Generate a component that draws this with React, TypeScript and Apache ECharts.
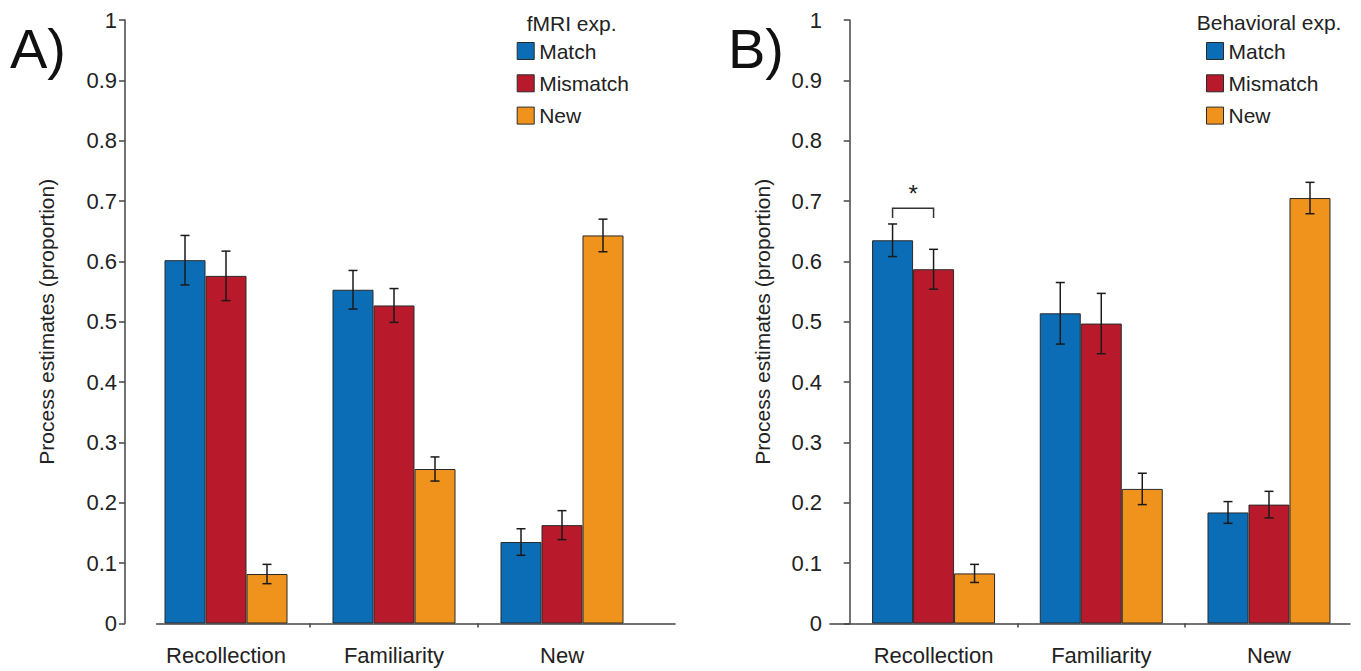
import React, { useEffect, useRef } from 'react';
import * as echarts from 'echarts';

// ---------- data ----------
const categories = ['Recollection', 'Familiarity', 'New'];
const categoryPositions = [0.5, 1.5, 2.5];
const boundaryTicks = [1, 2];
const seriesNames = ['Match', 'Mismatch', 'New'];
const yAxisName = 'Process estimates (proportion)';

// Panel A: fMRI experiment
const fmriMatch = [0.602, 0.553, 0.135];
const fmriMismatch = [0.576, 0.527, 0.163];
const fmriNew = [0.082, 0.256, 0.643];
const fmriMatchErr = [0.041, 0.032, 0.022];
const fmriMismatchErr = [0.041, 0.028, 0.024];
const fmriNewErr = [0.016, 0.02, 0.027];

// Panel B: behavioral experiment
const behMatch = [0.635, 0.514, 0.184];
const behMismatch = [0.587, 0.497, 0.197];
const behNew = [0.083, 0.223, 0.705];
const behMatchErr = [0.027, 0.051, 0.018];
const behMismatchErr = [0.033, 0.05, 0.022];
const behNewErr = [0.015, 0.026, 0.026];

// significance bracket (panel B, Recollection: Match vs Mismatch)
const sigCategoryIndex = [0];
const sigBracketTop = [0.688];
const sigBracketBottom = [0.672];
const sigStarLevel = [0.713];
const sigLabel = ['*'];

// ---------- styles ----------
const FONT = '"Liberation Sans", Arial, Helvetica, sans-serif';
const TEXT = '#222';
const AXIS = '#444';
const COLORS = ['#0b6db6', '#b81a2b', '#f0931d'];
const BAR_W = 41;
const CAP = 4.5;

const fmtY = (v: number) => {
  if (Math.abs(v) < 1e-9) return '0';
  if (Math.abs(v - 1) < 1e-9) return '1';
  return v.toFixed(1);
};
const fmtX = (v: number) => categories[Math.round(v - 0.5)] ?? '';

function errData(vals: number[][], errs: number[][]) {
  const out: number[][] = [];
  vals.forEach((arr, k) => {
    arr.forEach((v, i) => {
      out.push([categoryPositions[i], v, errs[k][i], k]);
    });
  });
  return out;
}

export default function App() {
  const ref = useRef<HTMLDivElement>(null);

  useEffect(() => {
    if (!ref.current) return;
    const chart = echarts.init(ref.current, undefined, { renderer: 'svg' });

    const panels = [
      {
        vals: [fmriMatch, fmriMismatch, fmriNew],
        errs: [fmriMatchErr, fmriMismatchErr, fmriNewErr],
        grid: { left: 156.7, right: 686, top: 20, bottom: 47.5 },
        xMin: 0.0875,
        xMax: 3.1726,
        yOffset: 31.7,
        nameGap: 68,
      },
      {
        vals: [behMatch, behMismatch, behNew],
        errs: [behMatchErr, behMismatchErr, behNewErr],
        grid: { left: 830, right: 11, top: 20, bottom: 47.5 },
        xMin: -0.1175,
        xMax: 2.983,
        yOffset: 0,
        nameGap: 57,
      },
    ];

    const series: any[] = [];
    panels.forEach((p, gi) => {
      p.vals.forEach((arr, k) => {
        series.push({
          type: 'bar',
          name: seriesNames[k],
          xAxisIndex: gi,
          yAxisIndex: gi,
          barWidth: BAR_W,
          barGap: '0%',
          data: arr.map((v, i) => [categoryPositions[i], v]),
          itemStyle: { color: COLORS[k], borderColor: '#2a2a2a', borderWidth: 1 },
          z: 2,
        });
      });
      series.push({
        type: 'custom',
        xAxisIndex: gi,
        yAxisIndex: gi,
        z: 10,
        data: errData(p.vals, p.errs),
        encode: { x: 0, y: 1 },
        renderItem: (params: any, api: any) => {
          const x = api.value(0);
          const y = api.value(1);
          const e = api.value(2);
          const k = api.value(3);
          const top = api.coord([x, y + e]);
          const bot = api.coord([x, y - e]);
          const cx = top[0] + (k - 1) * BAR_W;
          const style = { stroke: '#1a1a1a', lineWidth: 1.5 };
          return {
            type: 'group',
            children: [
              { type: 'line', shape: { x1: cx, y1: top[1], x2: cx, y2: bot[1] }, style },
              { type: 'line', shape: { x1: cx - CAP, y1: top[1], x2: cx + CAP, y2: top[1] }, style },
              { type: 'line', shape: { x1: cx - CAP, y1: bot[1], x2: cx + CAP, y2: bot[1] }, style },
            ],
          };
        },
      });
    });

    // significance bracket in panel B
    series.push({
      type: 'custom',
      xAxisIndex: 1,
      yAxisIndex: 1,
      z: 10,
      data: sigCategoryIndex.map((ci, j) => [
        categoryPositions[ci],
        sigBracketTop[j],
        sigBracketBottom[j],
        sigStarLevel[j],
      ]),
      encode: { x: 0, y: 1 },
      renderItem: (params: any, api: any) => {
        const x = api.value(0);
        const t = api.coord([x, api.value(1)]);
        const b = api.coord([x, api.value(2)]);
        const s = api.coord([x, api.value(3)]);
        const x1 = t[0] - BAR_W;
        const x2 = t[0];
        return {
          type: 'group',
          children: [
            {
              type: 'polyline',
              shape: { points: [[x1, b[1]], [x1, t[1]], [x2, t[1]], [x2, b[1]]] },
              style: { stroke: '#333', lineWidth: 1.5, fill: 'none' },
            },
            {
              type: 'text',
              x: (x1 + x2) / 2,
              y: s[1],
              style: {
                text: sigLabel[params.dataIndex],
                fontSize: 24,
                fontFamily: FONT,
                fill: TEXT,
                align: 'center',
                verticalAlign: 'middle',
              },
            },
          ],
        };
      },
    });

    const legendCommon = {
      data: seriesNames,
      orient: 'vertical',
      top: 40.5,
      padding: 0,
      itemWidth: 17,
      itemHeight: 17,
      itemGap: 11.3,
      icon: 'rect',
      selectedMode: false,
      itemStyle: { borderColor: '#2a2a2a', borderWidth: 1 },
      textStyle: { fontSize: 21, color: TEXT, fontFamily: FONT },
    };

    const option: any = {
      animation: false,
      backgroundColor: '#fff',
      grid: panels.map((p) => ({ ...p.grid, containLabel: false })),
      xAxis: panels.map((p, gi) => ({
        type: 'value',
        gridIndex: gi,
        min: p.xMin,
        max: p.xMax,
        axisLine: { show: true, onZero: false, lineStyle: { color: AXIS, width: 1.5 } },
        axisTick: { show: true, length: 4, customValues: boundaryTicks, lineStyle: { color: AXIS, width: 1.5 } },
        axisLabel: {
          customValues: categoryPositions,
          formatter: fmtX,
          margin: 21,
          fontSize: 22,
          color: TEXT,
          fontFamily: FONT,
        },
        splitLine: { show: false },
      })),
      yAxis: panels.map((p, gi) => ({
        type: 'value',
        gridIndex: gi,
        min: 0,
        max: 1,
        interval: 0.1,
        offset: p.yOffset,
        axisLine: { show: true, lineStyle: { color: AXIS, width: 1.5 } },
        axisTick: { show: true, length: 6, lineStyle: { color: AXIS, width: 1.5 } },
        axisLabel: { margin: 8, fontSize: 22, color: TEXT, fontFamily: FONT, formatter: fmtY },
        splitLine: { show: false },
        name: yAxisName,
        nameLocation: 'middle',
        nameGap: p.nameGap,
        nameTextStyle: { fontSize: 21, color: TEXT, fontFamily: FONT },
      })),
      legend: [
        { ...legendCommon, left: 516.7 },
        { ...legendCommon, left: 1206 },
      ],
      graphic: [
        {
          type: 'text',
          x: 10,
          y: 48,
          style: { text: 'A)', fontSize: 56, fontFamily: FONT, fill: '#111', align: 'left', verticalAlign: 'middle' },
        },
        {
          type: 'text',
          x: 728,
          y: 48,
          style: { text: 'B)', fontSize: 56, fontFamily: FONT, fill: '#111', align: 'left', verticalAlign: 'middle' },
        },
        {
          type: 'text',
          x: 526.7,
          y: 23,
          style: { text: 'fMRI exp.', fontSize: 21, fontFamily: FONT, fill: TEXT, align: 'left', verticalAlign: 'middle' },
        },
        {
          type: 'text',
          x: 1196.7,
          y: 22,
          style: { text: 'Behavioral exp.', fontSize: 21, fontFamily: FONT, fill: TEXT, align: 'left', verticalAlign: 'middle' },
        },
      ],
      series,
    };

    chart.setOption(option);
    return () => chart.dispose();
  }, []);

  return (
    <div
      ref={ref}
      style={{ position: 'fixed', left: 0, top: 0, width: 1361, height: 671, background: '#fff' }}
    />
  );
}
